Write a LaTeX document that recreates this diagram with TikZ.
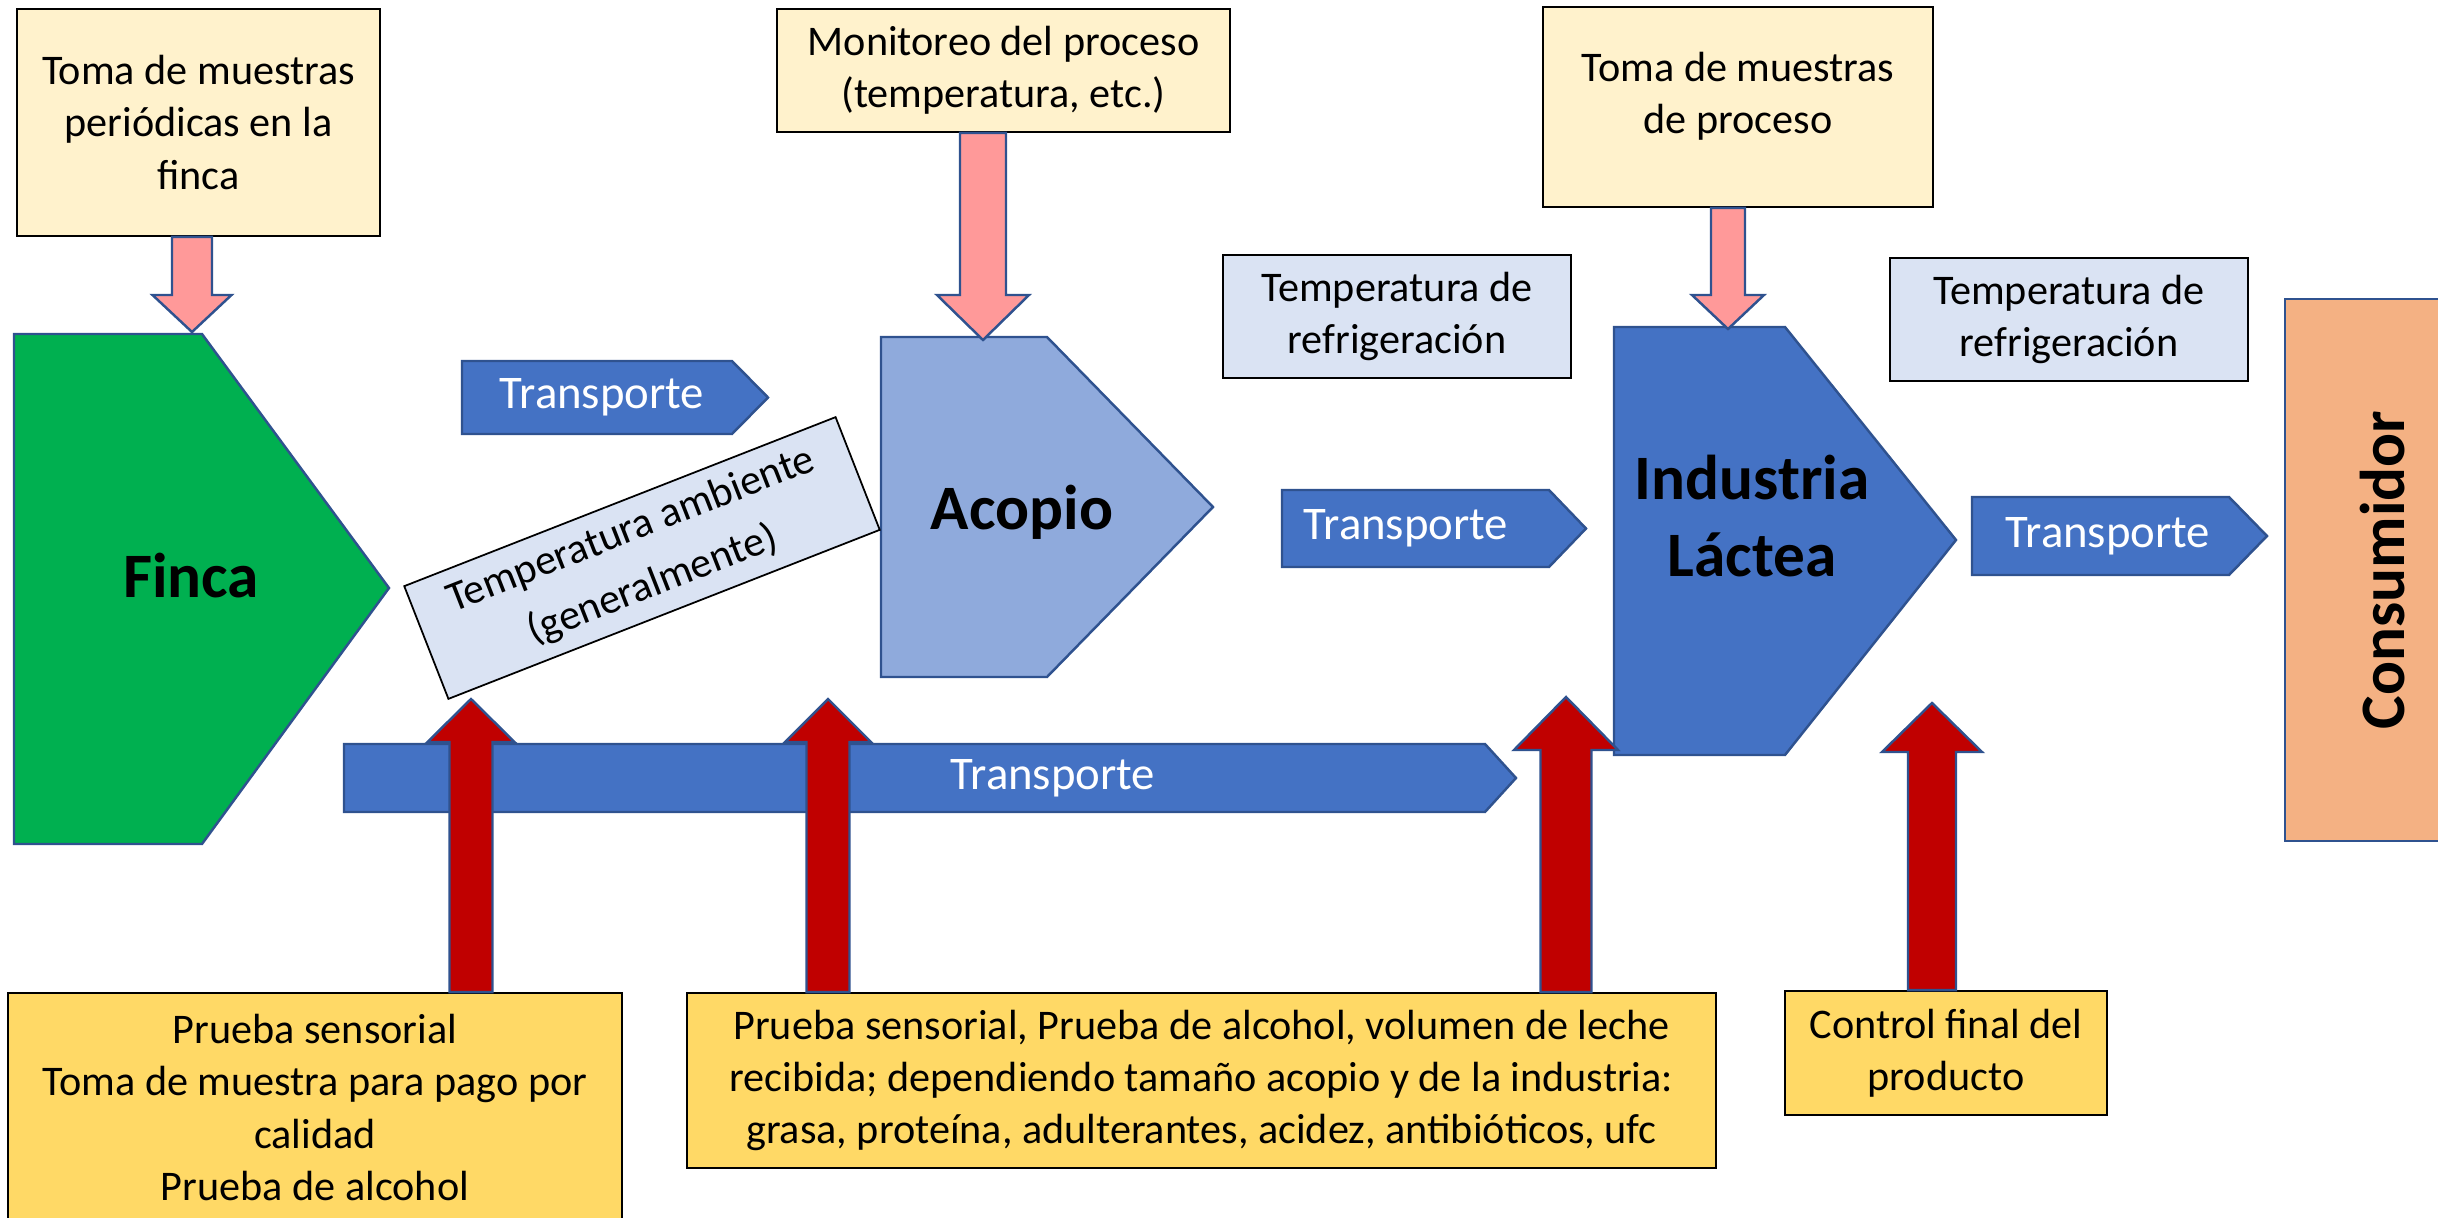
\documentclass[tikz,border=0pt]{standalone}
\usepackage{fontspec}
\setmainfont{Carlito}
\usetikzlibrary{calc, positioning}

\definecolor{amarillo}{HTML}{FFF2CC}
\definecolor{oro}{HTML}{FFD966}
\definecolor{celeste}{HTML}{DAE3F3}
\definecolor{azul}{HTML}{4472C4}
\definecolor{azulclaro}{HTML}{8FAADC}
\definecolor{borde}{HTML}{2F528F}
\definecolor{verde}{HTML}{00B050}
\definecolor{salmon}{HTML}{F4B183}
\definecolor{rosa}{HTML}{FF9999}
\definecolor{rojo}{HTML}{C00000}

\tikzset{
  caja/.style={draw=black, line width=0.5pt, align=center, inner sep=0pt,
               font=\fontsize{12}{14.8}\selectfont},
  nota/.style={caja, fill=amarillo},
  refri/.style={caja, fill=celeste},
  prueba/.style={caja, fill=oro},
  forma/.style={draw=borde, line width=0.7pt},
  titulo/.style={font=\fontsize{18}{22}\selectfont\bfseries, align=center},
  transporte/.style={forma, fill=azul},
  blanco/.style={text=white, font=\fontsize{13.3}{16}\selectfont},
  flecharosa/.style={forma, fill=rosa},
  flecharoja/.style={forma, fill=rojo},
}

% flecha de bloque vertical: estilo, origen, punta, medio ancho, medio ancho punta, largo punta
\newcommand{\bloque}[6]{%
  \draw[#1] ($(#2)+(-#4,0)$) -- ($(#3)+(-#4,#6)$) -- ($(#3)+(-#5,#6)$) -- (#3)
    -- ($(#3)+(#5,#6)$) -- ($(#3)+(#4,#6)$) -- ($(#2)+(#4,0)$) -- cycle;}

\begin{document}
\begin{tikzpicture}[x=0.01cm, y=-0.01cm]
  \useasboundingbox (0,0) rectangle (2438,1218);
  \clip (0,0) rectangle (2438,1218);

  % etapas de la cadena
  \draw[forma, fill=verde] (14,334) -- (202,334) -- (389,588) -- (202,844) -- (14,844) -- cycle;
  \node[titulo] (finca) at (191,576) {Finca};
  \draw[forma, fill=azulclaro] (881,337) -- (1047,337) -- (1213,507) -- (1047,677) -- (881,677) -- cycle;
  \node[titulo] (acopio) at (1022,512) {Acopio};
  \draw[forma, fill=azul] (1614,327) -- (1785,327) -- (1956,540) -- (1785,755) -- (1614,755) -- cycle;
  \node[titulo] (industria) at (1752,516) {Industria\\Láctea};
  \draw[forma, fill=salmon] (2285,299) rectangle (2485,841);
  \node[titulo, rotate=90] (consumidor) at (2383,570) {Consumidor};

  % flechas de transporte
  \foreach \xa/\xb/\xc/\ya/\yb/\xt [count=\i] in
      {462/732/768/361/434/602, 1282/1549/1586/490/567/1406,
       1972/2229/2267/497/575/2108, 344/1485/1516/744/812/1053}{
    \draw[transporte] (\xa,\ya) -- (\xb,\ya) -- (\xc,{(\ya+\yb)/2}) -- (\xb,\yb) -- (\xa,\yb) -- cycle;
    \node[blanco] (transporte\i) at (\xt,{(\ya+\yb)/2}) {Transporte};
  }

  % cajas de arriba
  \node[nota, minimum width=3.63cm, minimum height=2.27cm] (muestrasFinca) at (198.5,122.5)
       {Toma de muestras\\periódicas en la\\finca};
  \node[nota, minimum width=4.53cm, minimum height=1.23cm] (monitoreo) at (1003.5,70.5)
       {Monitoreo del proceso\\(temperatura, etc.)};
  \node[nota, minimum width=3.9cm, minimum height=2cm] (muestrasProceso) at (1738,107) {};
  \node[caja, draw=none] (textoProceso) at (1738,96) {Toma de muestras\\de proceso};
  \node[refri, minimum width=3.48cm, minimum height=1.23cm] (refri1) at (1397,316.5)
       {Temperatura de\\refrigeración};
  \node[refri, minimum width=3.58cm, minimum height=1.23cm] (refri2) at (2069,319.5)
       {Temperatura de\\refrigeración};
  \node[refri, rotate=21.4, minimum width=4.63cm, minimum height=1.21cm,
        font=\fontsize{12}{16.8}\selectfont] (ambiente) at (642,558)
       {Temperatura ambiente\\(generalmente)};

  % cajas de abajo
  \node[prueba, minimum width=6.14cm, minimum height=2.29cm] (prueba1) at (315,1107.5)
       {Prueba sensorial\\Toma de muestra para pago por\\calidad\\Prueba de alcohol};
  \node[prueba, minimum width=10.29cm, minimum height=1.75cm] (prueba2) at (1201.5,1080.5)
       {Prueba sensorial, Prueba de alcohol, volumen de leche\\recibida; dependiendo tamaño acopio y de la industria:\\grasa, proteína, adulterantes, acidez, antibióticos, ufc};
  \node[prueba, minimum width=3.22cm, minimum height=1.24cm] (control) at (1946,1053)
       {Control final del\\producto};

  % puntas de las flechas
  \coordinate (pFinca) at (192,332);
  \coordinate (pAcopio) at (983,340);
  \coordinate (pIndustria) at (1728,329);
  \coordinate (r1) at (471,699);
  \coordinate (r2) at (828,699);
  \coordinate (r3) at (1566,697);
  \coordinate (r4) at (1932,703);

  \bloque{flecharosa}{muestrasFinca.south -| pFinca}{pFinca}{20}{39.5}{-37}
  \bloque{flecharosa}{monitoreo.south -| pAcopio}{pAcopio}{23}{46}{-45}
  \bloque{flecharosa}{muestrasProceso.south -| pIndustria}{pIndustria}{17}{36}{-34}

  \foreach \de/\a/\s/\h/\l in {prueba1/r1/21.5/43.5/43, prueba2/r2/21.5/43/43,
                               prueba2/r3/25.5/52/53, control/r4/24/50/49}
    \bloque{flecharoja}{\de.north -| \a}{\a}{\s}{\h}{\l};
\end{tikzpicture}
\end{document}
